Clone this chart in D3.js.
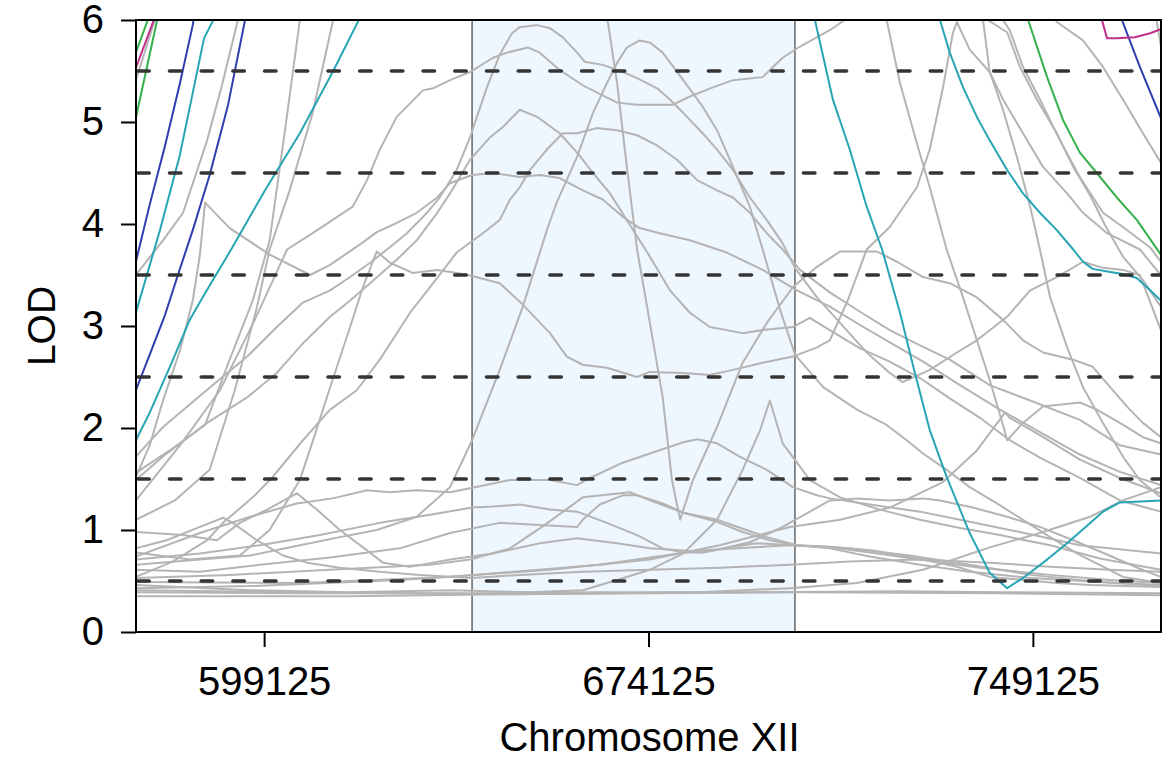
<!DOCTYPE html>
<html>
<head>
<meta charset="utf-8">
<script src="https://cdn.jsdelivr.net/npm/d3@7"></script>
<style>
  html, body { margin: 0; padding: 0; background: #ffffff; }
  svg { display: block; font-family: "Liberation Sans", Arial, sans-serif; }
</style>
</head>
<body>
<svg id="chart" width="1170" height="759"></svg>
<script>
// ---------------- DATA (positions in kb, LOD values) ----------------
const xTicks = [599.125, 674.125, 749.125];
const yTicks = [0, 1, 2, 3, 4, 5, 6];
const thresholds = [0.5, 1.5, 2.5, 3.5, 4.5, 5.5];
const region = [639.7, 702.7];
const xDomain = [574.125, 774.125];
const yDomain = [0, 6];
const xLabel = "Chromosome XII";
const yLabel = "LOD";

// coloured traces
const greenL1 = [[574.1,5.68],[577.0,6.08]];
const magentaL = [[574.1,5.53],[578.2,6.08]];
const greenL2 = [[574.1,5.04],[578.6,6.08]];
const blueL1 = [[574.1,3.63],[576.8,4.19],[579.8,4.77],[582.7,5.38],[585.2,5.95],[585.6,6.08]];
const blueL2 = [[574.1,2.37],[576.8,2.72],[579.8,3.11],[582.3,3.50],[585.2,3.94],[588.5,4.48],[592.1,5.17],[595.4,6.00],[595.8,6.08]];
const tealL1 = [[574.1,3.13],[578.8,3.94],[582.7,4.68],[587.4,5.82],[589.7,6.05]];
const tealL2 = [[574.1,1.88],[576.8,2.15],[581.1,2.64],[584.6,3.06],[587.6,3.32],[592.8,3.76],[599.3,4.33],[606.1,4.89],[612.5,5.49],[617.6,6.00],[618.6,6.10]];
const tealR1 = [[706.0,6.10],[706.6,6.00],[710.1,5.22],[713.4,4.73],[716.7,4.17],[719.7,3.75],[723.2,3.13],[726.1,2.54],[729.0,1.98],[732.3,1.52],[736.8,0.97],[740.7,0.58],[744.1,0.43],[747.2,0.53],[751.9,0.71],[755.8,0.87],[762.8,1.18],[766.1,1.27],[774.1,1.29]];
const tealR2 = [[730.4,6.10],[731.0,6.00],[732.9,5.68],[735.5,5.34],[738.2,5.05],[740.7,4.82],[744.1,4.53],[747.2,4.30],[750.5,4.11],[753.8,3.94],[757.0,3.75],[758.9,3.63],[760.8,3.56],[764.2,3.53],[766.7,3.51],[769.4,3.47],[771.6,3.37],[774.1,3.25]];
const greenR = [[747.8,6.10],[748.2,6.00],[751.9,5.44],[755.0,5.02],[758.3,4.70],[761.6,4.50],[765.5,4.26],[769.4,4.04],[774.1,3.70]];
const magentaR = [[762.4,6.10],[762.6,6.00],[763.6,5.82],[765.5,5.82],[769.0,5.83],[772.0,5.87],[774.1,5.91]];
const blueR = [[765.7,6.10],[766.5,6.00],[770.0,5.54],[774.1,5.04]];

// grey traces
const g01 = [[574.1,5.41],[577.8,6.00],[578.4,6.10]];
const g02 = [[574.1,3.50],[579.4,3.84],[583.3,4.11],[588.0,4.82],[590.9,5.36],[594.0,6.00],[594.6,6.12]];
const g03 = [[574.1,1.56],[580.7,1.78],[587.6,2.03],[592.4,2.67],[596.9,3.25],[600.2,3.84],[603.2,4.92],[606.1,6.00],[606.5,6.12]];
const g04 = [[574.1,1.52],[576.8,1.83],[579.4,2.27],[582.7,2.76],[585.2,3.25],[586.6,3.70],[587.6,4.21],[592.4,3.96],[600.2,3.70],[608.1,3.50],[612.0,3.60],[618.4,3.82],[621.1,3.92],[625.0,4.01],[628.9,4.11],[632.9,4.26],[635.4,4.40],[639.7,4.48],[643.8,4.50],[649.0,4.46],[652.9,4.48],[656.8,4.45],[661.3,4.33],[665.2,4.24],[669.1,4.07],[672.4,3.96],[676.3,3.91],[682.2,3.84],[689.4,3.72],[696.4,3.55],[703.1,3.35],[709.5,3.19],[715.4,3.01],[721.2,2.84],[727.7,2.65],[734.9,2.42],[742.7,2.18],[750.5,1.96],[758.3,1.74],[766.1,1.57],[774.1,1.44]];
const g05 = [[574.1,1.29],[582.7,1.83],[590.5,2.37],[597.3,3.06],[603.6,3.75],[608.6,3.91],[612.5,4.04],[616.4,4.17],[619.2,4.43],[621.7,4.73],[625.0,5.05],[630.1,5.31],[632.1,5.33],[635.4,5.41],[639.3,5.49],[643.8,5.63],[646.5,5.68],[650.6,5.73],[652.9,5.68],[656.8,5.51],[661.3,5.36],[668.0,5.19],[671.9,5.17],[678.9,5.17],[682.2,5.25],[686.7,5.34],[690.6,5.41],[696.4,5.44],[700.3,5.63],[703.7,5.74],[709.5,5.90],[712.4,6.00],[713.4,6.08]];
const g06 = [[574.1,1.72],[579.4,2.01],[587.2,2.34],[595.8,2.70],[601.6,2.99],[606.7,3.23],[612.0,3.35],[615.9,3.48],[619.8,3.62],[623.1,3.75],[627.0,3.91],[630.9,4.11],[633.4,4.26],[636.7,4.53],[639.3,4.85],[642.6,5.34],[645.1,5.66],[647.5,5.87],[649.0,5.93],[652.4,5.95],[654.9,5.92],[657.4,5.83],[660.2,5.68],[661.7,5.59],[665.2,5.56],[669.1,5.49],[671.9,5.43],[675.8,5.33],[678.3,5.22],[680.9,5.09],[684.7,4.89],[687.5,4.73],[690.6,4.53],[693.9,4.26],[697.2,4.04],[700.3,3.81],[702.7,3.57],[707.0,3.28],[711.5,3.03],[716.7,2.74],[721.2,2.54],[723.7,2.45],[729.0,2.57],[734.3,2.74],[738.2,2.86],[744.1,3.09],[748.6,3.35],[753.8,3.48],[758.9,3.63],[762.8,3.57],[766.7,3.55],[770.0,3.50],[774.1,2.96]];
const g07 = [[574.1,1.49],[579.4,1.72],[588.0,2.05],[595.8,2.30],[601.6,2.54],[606.7,2.83],[612.0,3.09],[615.9,3.25],[619.8,3.42],[625.0,3.65],[628.9,3.84],[632.9,4.11],[635.4,4.30],[639.3,4.63],[643.2,4.85],[645.7,4.95],[649.0,5.12],[652.4,5.05],[656.8,4.89],[660.2,4.70],[663.3,4.50],[666.6,4.30],[670.5,3.99],[674.4,3.68],[678.3,3.35],[682.2,3.13],[686.1,2.99],[692.5,2.93],[696.4,2.96],[702.3,2.99],[705.6,3.08],[709.5,2.96],[715.4,2.78],[721.2,2.65],[727.1,2.49],[732.9,2.29],[738.8,2.10],[744.6,1.88],[750.5,1.71],[758.3,1.51],[766.1,1.29],[774.1,1.18]];
const g08 = [[665.2,6.12],[666.2,5.98],[668.0,5.38],[669.9,4.56],[671.9,3.75],[674.4,3.03],[676.9,2.30],[678.7,1.49],[680.3,1.10],[682.8,1.49],[687.5,2.01],[692.5,2.64],[697.2,3.03],[702.3,3.38],[707.0,3.58],[711.5,3.73],[718.7,3.73],[722.6,3.63],[727.7,3.48],[732.9,3.42],[738.2,3.28],[743.3,3.06],[747.2,2.86],[751.1,2.74],[757.0,2.67],[760.8,2.60],[764.2,2.40],[767.5,2.21],[770.6,2.05],[774.1,1.91]];
const g09 = [[574.1,0.66],[586.6,0.71],[596.4,0.75],[606.1,0.85],[613.9,0.93],[621.1,1.00],[628.9,1.13],[635.4,1.42],[639.7,1.88],[645.1,2.57],[649.6,3.19],[654.3,3.94],[656.2,4.21],[660.2,4.66],[663.3,5.09],[666.0,5.38],[668.0,5.58],[669.9,5.73],[672.4,5.80],[674.4,5.78],[676.9,5.68],[680.9,5.41],[684.7,5.15],[687.5,4.92],[690.6,4.56],[693.9,4.17],[696.4,3.75],[699.8,3.16],[702.7,2.72],[708.2,2.40],[714.8,2.18],[720.6,2.03],[724.5,1.88],[727.7,1.75],[732.3,1.59],[736.8,1.42],[742.1,1.26],[747.2,1.10],[752.5,0.93],[757.7,0.77],[762.8,0.64],[766.7,0.54],[774.1,0.48]];
const g10 = [[574.1,0.78],[584.6,0.71],[594.4,0.75],[600.2,1.00],[606.1,1.49],[609.0,1.93],[612.0,2.40],[615.9,2.99],[618.4,3.38],[621.1,3.73],[623.7,3.62],[628.1,3.52],[632.9,3.55],[636.7,3.52],[639.7,3.49],[645.1,3.42],[649.6,3.21],[654.9,2.93],[658.2,2.70],[661.3,2.62],[666.0,2.59],[671.9,2.50],[674.4,2.55],[680.9,2.54],[686.1,2.52],[690.6,2.57],[696.4,2.64],[702.3,2.70],[707.0,2.79],[709.5,2.86],[713.0,3.25],[716.7,3.75],[721.2,3.97],[726.5,4.36],[729.0,4.73],[731.6,5.34],[733.5,5.87],[734.3,5.98],[736.8,5.71],[740.7,5.49],[743.3,5.22],[747.2,4.89],[751.1,4.56],[755.8,4.30],[758.9,4.11],[763.6,3.91],[770.0,3.75],[774.1,3.50]];
const g11 = [[574.1,0.54],[581.3,0.69],[588.0,0.90],[591.1,1.07],[596.9,1.32],[600.8,1.52],[606.7,1.88],[612.0,2.18],[617.2,2.37],[621.7,2.67],[627.6,3.13],[631.5,3.38],[636.7,3.72],[641.8,3.91],[645.1,4.04],[647.1,4.24],[649.0,4.36],[651.0,4.53],[654.3,4.73],[657.4,4.89],[660.2,4.89],[664.0,4.94],[668.0,4.92],[671.9,4.87],[675.8,4.77],[679.7,4.63],[683.6,4.43],[687.5,4.33],[690.6,4.26],[693.9,4.11],[697.2,3.91],[700.3,3.75],[703.7,3.55],[709.5,3.33],[715.4,3.14],[721.2,2.96],[727.1,2.81],[732.9,2.67],[740.7,2.42],[748.6,2.27],[758.3,2.08],[766.1,1.83],[774.1,1.74]];
const g12 = [[574.1,0.46],[596.4,0.41],[615.9,0.39],[635.4,0.41],[651.0,0.39],[661.3,0.41],[668.0,0.51],[674.4,0.61],[680.9,0.77],[687.5,1.10],[692.5,1.59],[695.9,1.98],[697.8,2.27],[700.3,1.85],[703.1,1.66],[705.6,1.49],[711.5,1.32],[719.3,1.20],[727.1,1.10],[734.9,1.02],[742.7,0.95],[752.5,0.85],[762.2,0.72],[774.1,0.61]];
const g13 = [[574.1,0.74],[586.6,0.97],[596.4,1.13],[605.5,1.26],[612.5,1.31],[619.2,1.39],[623.7,1.37],[628.9,1.39],[635.4,1.37],[639.3,1.41],[647.1,1.49],[654.9,1.49],[660.2,1.44],[662.7,1.51],[669.1,1.66],[674.4,1.75],[680.9,1.86],[683.6,1.89],[687.5,1.85],[691.9,1.72],[697.2,1.59],[702.3,1.42],[707.0,1.34],[709.5,1.31],[717.3,1.25],[727.1,1.18],[736.8,1.08],[746.6,0.98],[758.3,0.85],[774.1,0.77]];
const g14 = [[574.1,0.98],[583.3,0.95],[589.9,0.90],[594.4,1.07],[599.7,1.20],[605.5,1.36],[609.4,1.20],[613.9,1.00],[619.2,0.80],[622.3,0.68],[627.6,0.64],[632.1,0.68],[635.4,0.71],[643.8,0.77],[652.9,0.87],[660.2,0.92],[668.0,0.87],[674.4,0.82],[680.9,0.80],[684.7,0.78],[688.6,0.82],[693.9,0.88],[700.3,1.03],[709.5,1.29],[714.8,1.31],[721.2,1.29],[727.7,1.31],[731.0,1.29],[737.4,1.22],[744.1,1.13],[750.5,1.03],[757.0,0.90],[763.6,0.76],[770.0,0.62],[774.1,0.54]];
const g15 = [[574.1,0.82],[580.1,0.90],[586.6,1.03],[591.1,1.12],[593.0,1.07],[597.7,0.90],[602.8,0.75],[607.5,0.68],[613.9,0.63],[621.7,0.59],[629.5,0.56],[639.7,0.53],[649.0,0.56],[661.3,0.59],[674.4,0.61],[688.0,0.63],[701.7,0.66],[713.4,0.69],[727.1,0.71],[740.7,0.68],[752.5,0.64],[764.2,0.61],[774.1,0.59]];
const g16 = [[574.1,0.71],[586.6,0.77],[598.3,0.85],[610.0,0.95],[621.7,1.07],[631.5,1.15],[639.7,1.22],[643.8,1.23],[649.0,1.25],[654.9,1.20],[660.2,1.18],[666.0,1.07],[671.9,0.95],[676.9,0.82],[680.9,0.78],[684.7,0.78],[690.0,0.83],[695.3,0.87],[702.3,0.85],[709.5,0.83],[717.3,0.78],[727.1,0.71],[738.8,0.63],[752.5,0.56],[764.2,0.51],[774.1,0.48]];
const g17 = [[574.1,0.61],[586.6,0.59],[598.3,0.66],[612.0,0.73],[625.6,0.82],[635.4,0.97],[645.1,1.07],[652.9,1.05],[660.2,1.03],[661.3,1.10],[664.6,1.25],[669.1,1.34],[671.9,1.34],[676.9,1.26],[680.9,1.17],[687.5,1.08],[692.5,0.98],[697.8,0.90],[703.1,0.85],[709.5,0.82],[717.3,0.74],[727.1,0.66],[736.8,0.59],[748.6,0.53],[762.2,0.49],[774.1,0.46]];
const g18 = [[574.1,0.53],[592.4,0.56],[612.0,0.61],[631.5,0.66],[639.3,0.71],[647.1,0.82],[653.9,1.05],[661.3,1.32],[670.5,1.37],[674.4,1.29],[680.9,1.17],[687.5,1.10],[697.2,0.93],[703.1,0.85],[713.4,0.82],[725.1,0.75],[736.8,0.66],[748.6,0.56],[762.2,0.49],[774.1,0.45]];
const g19 = [[574.1,0.41],[606.1,0.39],[645.1,0.37],[684.1,0.39],[701.7,0.43],[714.8,0.48],[727.7,0.61],[740.7,0.83],[750.5,0.97],[760.3,1.13],[766.7,1.29],[774.1,1.42]];
const g20 = [[574.1,0.49],[606.1,0.48],[635.4,0.54],[664.6,0.66],[684.1,0.80],[701.7,0.85],[708.2,0.84],[717.9,0.80],[727.7,0.71],[734.3,0.64],[740.7,0.54],[747.2,0.51],[753.8,0.48],[760.3,0.46],[774.1,0.44]];
const g21 = [[574.1,0.39],[606.1,0.38],[639.7,0.38],[664.6,0.39],[693.9,0.39],[723.2,0.40],[742.7,0.39],[774.1,0.38]];
const g22 = [[574.1,0.35],[615.9,0.35],[645.1,0.37],[674.4,0.38],[703.7,0.39],[742.7,0.38],[774.1,0.36]];
const g23 = [[574.1,0.43],[596.4,0.45],[625.6,0.51],[654.9,0.61],[674.4,0.71],[688.0,0.85],[701.7,1.03],[711.5,1.10],[721.2,1.22],[731.6,1.47],[738.2,1.78],[743.7,2.15],[744.6,2.10],[750.5,1.93],[758.3,1.69],[766.1,1.51],[774.1,1.36]];
const g24 = [[720.2,6.10],[720.6,6.00],[723.2,5.38],[726.5,4.79],[729.0,4.36],[732.3,3.75],[735.5,3.28],[738.2,2.86],[740.7,2.47],[743.3,2.03],[744.1,1.88],[747.2,2.05],[751.1,2.21],[758.3,2.25],[761.6,2.18],[766.1,2.05],[770.6,1.91],[774.1,1.85]];
const g25 = [[739.0,6.10],[739.4,6.00],[740.7,5.49],[743.3,5.12],[746.0,4.66],[748.6,4.17],[750.5,3.75],[752.5,3.28],[755.8,2.79],[758.9,2.40],[762.8,2.05],[766.7,1.72],[770.0,1.49],[774.1,1.32]];
const g26 = [[739.7,6.10],[740.3,6.00],[744.1,5.88],[746.6,5.54],[749.9,5.22],[753.8,4.89],[757.0,4.56],[760.3,4.28],[763.2,3.99],[766.7,3.68],[770.6,3.45],[774.1,3.19]];
const g27 = [[742.9,6.10],[743.3,6.00],[744.6,5.90],[747.2,5.54],[750.5,5.22],[754.4,4.82],[758.3,4.46],[762.8,4.11],[766.7,3.97],[772.0,3.77],[774.1,3.63]];
const g28 = [[752.5,6.10],[753.8,5.98],[758.9,5.80],[762.8,5.54],[766.7,5.22],[770.6,4.89],[774.1,4.60]];
const g29 = [[772.9,6.10],[774.1,5.75]];
const g30 = [[574.1,1.10],[581.7,1.29],[588.5,1.59],[593.4,2.37],[597.7,3.18],[600.2,3.75],[604.1,4.33],[608.6,5.09],[612.5,5.98],[613.1,6.12]];

const greyTraces = [g01,g02,g03,g04,g05,g06,g07,g08,g09,g10,g11,g12,g13,g14,g15,g16,g17,g18,g19,g20,g21,g22,g23,g24,g25,g26,g27,g28,g29,g30];
const colourTraces = [
  {pts: tealL1, c: "#27a5b4"}, {pts: tealL2, c: "#27a5b4"},
  {pts: tealR1, c: "#27a5b4"}, {pts: tealR2, c: "#27a5b4"},
  {pts: blueL1, c: "#2f3daf"}, {pts: blueL2, c: "#2f3daf"}, {pts: blueR, c: "#2f3daf"},
  {pts: greenL1, c: "#35b04b"}, {pts: greenL2, c: "#35b04b"}, {pts: greenR, c: "#35b04b"},
  {pts: magentaL, c: "#c0318b"}, {pts: magentaR, c: "#c0318b"}
];

// ---------------- DRAWING ----------------
const svg = d3.select("#chart");
const L = 136, R = 1161, T = 20, B = 632;
const x = d3.scaleLinear().domain(xDomain).range([L, R]);
const y = d3.scaleLinear().domain(yDomain).range([B, T]);

svg.append("defs").append("clipPath").attr("id", "plotclip")
  .append("rect").attr("x", L).attr("y", T).attr("width", R - L).attr("height", B - T);

const plot = svg.append("g").attr("clip-path", "url(#plotclip)");

// highlighted region
plot.append("rect")
  .attr("x", x(region[0])).attr("y", T)
  .attr("width", x(region[1]) - x(region[0])).attr("height", B - T)
  .attr("fill", "#eef6fe");
region.forEach(r => {
  plot.append("line").attr("x1", x(r)).attr("x2", x(r)).attr("y1", T).attr("y2", B)
    .attr("stroke", "#6e6e6e").attr("stroke-width", 1.6);
});

const line = d3.line().x(d => x(d[0])).y(d => y(d[1]));

plot.selectAll("path.grey").data(greyTraces).join("path")
  .attr("class", "grey").attr("d", line)
  .attr("fill", "none").attr("stroke", "#b4b4b4").attr("stroke-width", 2)
  .attr("stroke-linejoin", "round");

plot.selectAll("path.col").data(colourTraces).join("path")
  .attr("class", "col").attr("d", d => line(d.pts))
  .attr("fill", "none").attr("stroke", d => d.c).attr("stroke-width", 2)
  .attr("stroke-linejoin", "round");

// threshold dashed lines
plot.selectAll("line.thr").data(thresholds).join("line")
  .attr("class", "thr")
  .attr("x1", L + 1.8).attr("x2", R).attr("y1", d => y(d)).attr("y2", d => y(d))
  .attr("stroke", "#343434").attr("stroke-width", 3.6)
  .attr("stroke-linecap", "round")
  .attr("stroke-dasharray", "11.4,20.3");

// box
svg.append("rect").attr("x", L).attr("y", T).attr("width", R - L).attr("height", B - T)
  .attr("fill", "none").attr("stroke", "#000").attr("stroke-width", 2);

// axes
const yAxis = d3.axisLeft(y).tickValues(yTicks).tickSize(15).tickPadding(17).tickFormat(d3.format("d"));
const gy = svg.append("g").attr("transform", `translate(${L},0)`).call(yAxis);
const xAxis = d3.axisBottom(x).tickValues(xTicks).tickSize(15).tickPadding(20)
  .tickFormat(d => String(Math.round(d * 1000)));
const gx = svg.append("g").attr("transform", `translate(0,${B})`).call(xAxis);

[gx, gy].forEach(g => {
  g.select(".domain").remove();
  g.selectAll(".tick line").attr("stroke", "#000").attr("stroke-width", 2);
  g.selectAll(".tick text").attr("fill", "#000")
    .style("font-size", "40px").style("font-family", '"Liberation Sans", Arial, sans-serif');
});

svg.append("text").attr("x", (L + R) / 2 + 1).attr("y", 751).attr("text-anchor", "middle")
  .style("font-size", "40px").text(xLabel);
svg.append("text").attr("transform", `translate(55,${(T + B) / 2}) rotate(-90)`)
  .attr("text-anchor", "middle").style("font-size", "39px").text(yLabel);
</script>
</body>
</html>
